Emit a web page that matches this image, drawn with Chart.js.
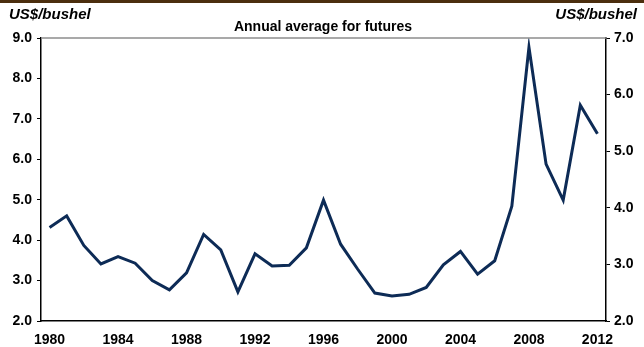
<!DOCTYPE html>
<html>
<head>
<meta charset="utf-8">
<script src="https://cdn.jsdelivr.net/npm/chart.js@4/dist/chart.umd.min.js"></script>
<style>
  html, body { margin: 0; padding: 0; background: #fff; }
  #wrap { width: 644px; height: 347px; position: relative; }
</style>
</head>
<body>
<div id="wrap"><canvas id="chart"></canvas></div>
<script>
// Annual average futures price, US$/bushel (left axis)
const years = [1980, 1981, 1982, 1983, 1984, 1985, 1986, 1987, 1988, 1989,
               1990, 1991, 1992, 1993, 1994, 1995, 1996, 1997, 1998, 1999,
               2000, 2001, 2002, 2003, 2004, 2005, 2006, 2007, 2008, 2009,
               2010, 2011, 2012];
const prices = [4.31, 4.60, 3.87, 3.41, 3.59, 3.43, 3.00, 2.77, 3.19, 4.14,
                3.76, 2.72, 3.66, 3.36, 3.38, 3.81, 4.99, 3.90, 3.28, 2.69,
                2.62, 2.66, 2.83, 3.39, 3.72, 3.16, 3.49, 4.84, 8.77, 5.88,
                4.99, 7.34, 6.63];
const unitLabel = 'US$/bushel';
const chartTitle = 'Annual average for futures';

const tickFont = { family: 'Arial, "Liberation Sans", sans-serif', size: 14, weight: 'bold' };

// draws header bar, unit labels, title and the gray top frame line
const decorations = {
    id: 'decorations',
    beforeDraw(chart) {
        const ctx = chart.ctx;
        ctx.save();
        ctx.fillStyle = '#fff';
        ctx.fillRect(0, 0, chart.width, chart.height);
        ctx.fillStyle = '#4b2e0e';
        ctx.fillRect(0, 0, chart.width, 3);
        ctx.restore();
    },
    afterDraw(chart) {
        const ctx = chart.ctx;
        const area = chart.chartArea;
        ctx.save();
        ctx.strokeStyle = '#8c8c8c';
        ctx.lineWidth = 1.5;
        ctx.beginPath();
        ctx.moveTo(area.left, area.top);
        ctx.lineTo(area.right, area.top);
        ctx.stroke();

        ctx.fillStyle = '#000';
        ctx.textBaseline = 'middle';
        ctx.font = 'italic bold 15px Arial, "Liberation Sans", sans-serif';
        ctx.textAlign = 'left';
        ctx.fillText(unitLabel, 9, 15);
        ctx.textAlign = 'right';
        ctx.fillText(unitLabel, 637, 15);

        ctx.font = 'bold 14px Arial, "Liberation Sans", sans-serif';
        ctx.textAlign = 'center';
        ctx.fillText(chartTitle, 323, 27);
        ctx.restore();
    }
};

new Chart(document.getElementById('chart'), {
    type: 'line',
    data: {
        labels: years,
        datasets: [{
            data: prices,
            yAxisID: 'y',
            borderColor: '#0d2b56',
            borderWidth: 3,
            pointRadius: 0,
            tension: 0,
            fill: false
        }]
    },
    options: {
        responsive: true,
        maintainAspectRatio: false,
        animation: false,
        layout: { padding: { top: 38, left: 0, right: 0, bottom: 0 } },
        plugins: {
            legend: { display: false },
            tooltip: { enabled: false }
        },
        scales: {
            x: {
                type: 'category',
                offset: true,
                grid: { display: false },
                border: { color: '#000', width: 1.5 },
                ticks: {
                    color: '#000',
                    font: tickFont,
                    autoSkip: false,
                    maxRotation: 0,
                    padding: 3,
                    callback: function(val, idx) {
                        const yr = years[idx];
                        return yr % 4 === 0 ? String(yr) : '';
                    }
                },
                afterFit: function(scale) { scale.height = 26; }
            },
            y: {
                position: 'left',
                min: 2,
                max: 9,
                grid: { drawOnChartArea: false, tickLength: 4, tickColor: '#000' },
                border: { color: '#000', width: 1.5 },
                ticks: {
                    stepSize: 1,
                    color: '#000',
                    font: tickFont,
                    padding: 5,
                    callback: v => v.toFixed(1)
                },
                afterFit: function(scale) { scale.width = 41; }
            },
            y2: {
                position: 'right',
                min: 2,
                max: 7,
                grid: { drawOnChartArea: false, tickLength: 4, tickColor: '#000' },
                border: { color: '#000', width: 1.5 },
                ticks: {
                    stepSize: 1,
                    color: '#000',
                    font: tickFont,
                    padding: 4,
                    callback: v => v.toFixed(1)
                },
                afterFit: function(scale) { scale.width = 38; }
            }
        }
    },
    plugins: [decorations]
});
</script>
</body>
</html>
